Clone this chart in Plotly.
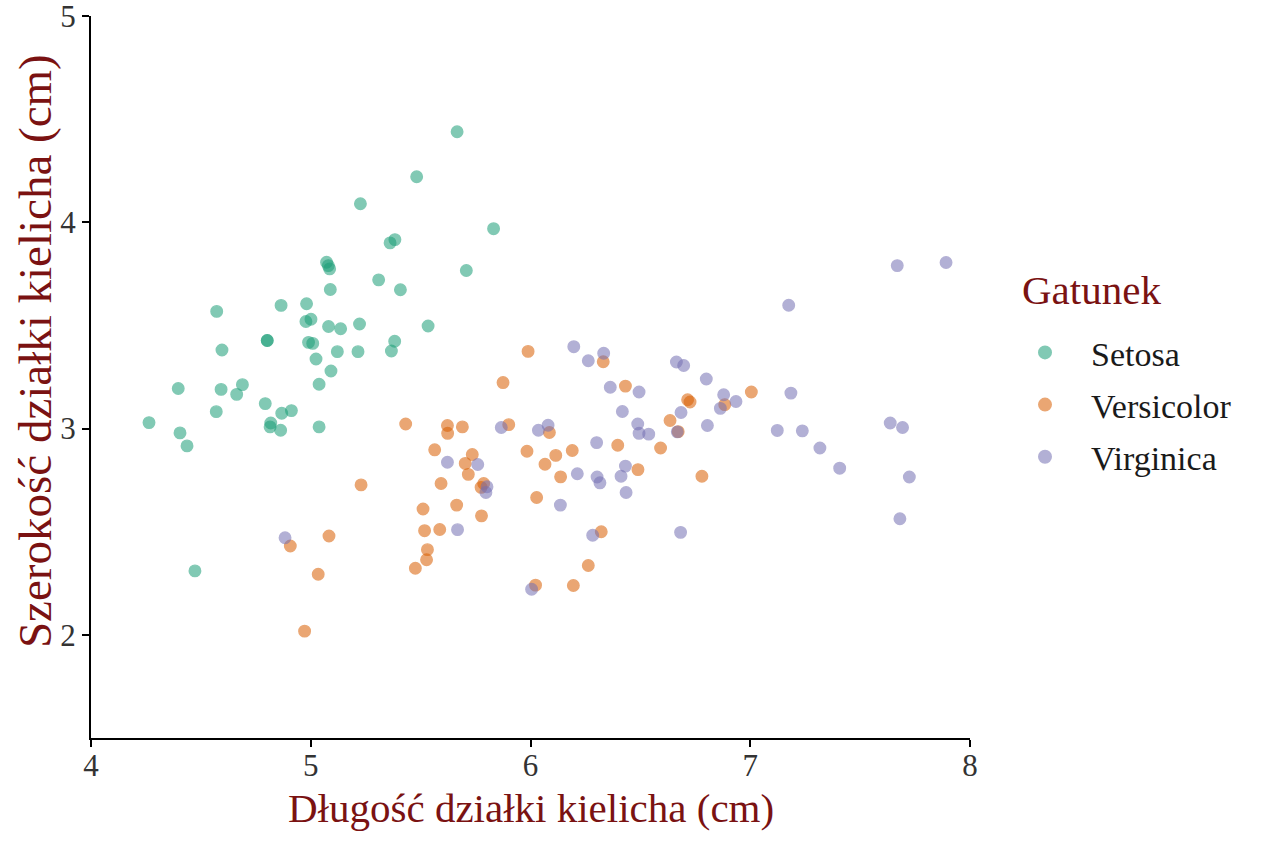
import plotly.graph_objects as go

species = ["Setosa", "Versicolor", "Virginica"]
colors = ["#1b9e77", "#d95f02", "#7570b3"]

setosa_x = [5.666, 5.482, 5.226, 5.832, 5.361, 5.383, 5.072, 5.080, 5.086, 5.708,
            5.309, 5.089, 5.408, 4.572, 4.865, 4.981, 4.978, 5.001, 5.081, 5.136,
            5.222, 5.534, 4.802, 4.802, 4.990, 5.009, 4.596, 5.121, 5.215, 5.382,
            5.367, 5.024, 5.092, 5.038, 4.397, 4.592, 4.689, 4.663, 4.793, 4.570,
            4.868, 4.912, 4.264, 4.818, 4.815, 4.863, 5.038, 4.405, 4.437, 4.473]
setosa_y = [4.439, 4.221, 4.090, 3.969, 3.900, 3.916, 3.806, 3.790, 3.774, 3.766,
            3.721, 3.674, 3.673, 3.568, 3.597, 3.605, 3.519, 3.530, 3.495, 3.484,
            3.507, 3.497, 3.427, 3.427, 3.418, 3.413, 3.381, 3.373, 3.373, 3.423,
            3.376, 3.337, 3.279, 3.215, 3.194, 3.190, 3.213, 3.166, 3.121, 3.082,
            3.074, 3.087, 3.029, 3.027, 3.008, 2.992, 3.008, 2.979, 2.916, 2.310]

versicolor_x = [5.989, 6.331, 5.875, 6.432, 7.005, 6.715, 6.726, 6.884, 5.432, 5.622,
                5.623, 5.690, 5.901, 6.086, 5.564, 5.735, 5.703, 5.717, 5.593, 5.787,
                5.775, 5.984, 6.115, 6.190, 6.066, 6.137, 6.397, 6.592, 6.635, 6.489,
                5.229, 6.028, 5.511, 5.664, 5.777, 5.518, 5.587, 6.322, 5.083, 4.907,
                5.531, 5.527, 5.476, 6.263, 5.034, 6.023, 6.195, 4.972, 6.780, 6.672]
versicolor_y = [3.374, 3.324, 3.223, 3.206, 3.177, 3.140, 3.129, 3.116, 3.022, 3.015,
                2.977, 3.008, 3.019, 2.981, 2.897, 2.874, 2.831, 2.778, 2.734, 2.734,
                2.715, 2.890, 2.870, 2.894, 2.827, 2.766, 2.919, 2.906, 3.039, 2.801,
                2.727, 2.666, 2.610, 2.629, 2.577, 2.505, 2.511, 2.500, 2.479, 2.431,
                2.413, 2.364, 2.323, 2.336, 2.294, 2.241, 2.239, 2.018, 2.769, 2.985]

virginica_x = [7.669, 7.891, 7.175, 6.197, 6.263, 6.333, 6.664, 6.697, 6.800, 6.363,
               6.494, 6.879, 6.935, 6.864, 7.185, 6.418, 6.685, 6.488, 6.805, 6.036,
               6.080, 6.494, 6.538, 6.668, 7.123, 7.237, 7.317, 7.407, 7.637, 7.693,
               7.724, 7.681, 6.301, 6.213, 6.303, 6.316, 6.432, 6.412, 6.435, 6.136,
               6.283, 6.683, 5.867, 5.622, 5.760, 5.802, 5.797, 5.668, 4.883, 6.005]
virginica_y = [3.790, 3.805, 3.598, 3.397, 3.329, 3.365, 3.323, 3.306, 3.240, 3.200,
               3.177, 3.164, 3.131, 3.098, 3.172, 3.083, 3.078, 3.022, 3.015, 2.992,
               3.016, 2.977, 2.973, 2.984, 2.991, 2.989, 2.906, 2.808, 3.027, 3.005,
               2.765, 2.563, 2.932, 2.781, 2.765, 2.737, 2.818, 2.769, 2.690, 2.629,
               2.483, 2.497, 3.005, 2.837, 2.826, 2.718, 2.690, 2.510, 2.471, 2.221]

xs = [setosa_x, versicolor_x, virginica_x]
ys = [setosa_y, versicolor_y, virginica_y]

x_ticks = [4, 5, 6, 7, 8]
y_ticks = [2, 3, 4, 5]

x_title = "Długość działki kielicha (cm)"
y_title = "Szerokość działki kielicha (cm)"
legend_title = "Gatunek"

FONT = "Liberation Serif"
TITLE_COLOR = "#7a1212"
TICK_COLOR = "#333333"

fig = go.Figure()
for name, c, x, y in zip(species, colors, xs, ys):
    fig.add_trace(go.Scatter(
        x=x, y=y, mode="markers", name=name, legendgroup=name,
        marker=dict(size=11.5, color=c, opacity=0.55,
                    line=dict(color=c, width=1.4)),
    ))

axis_common = dict(
    showgrid=False, zeroline=False, showline=True, linecolor="black", linewidth=2,
    ticks="outside", ticklen=7, tickwidth=2, tickcolor="black",
    tickfont=dict(family=FONT, size=31, color=TICK_COLOR),
    automargin=False, ticklabeloverflow="allow",
)

fig.update_layout(
    width=1264, height=843,
    margin=dict(l=91, r=294, t=16, b=105),
    paper_bgcolor="white", plot_bgcolor="white",
    font=dict(family=FONT, color=TICK_COLOR),
    showlegend=True,
    legend=dict(
        font=dict(family=FONT, size=34, color="#1a1a1a"),
        x=1.033, y=0.5737, xanchor="left", yanchor="top",
        traceorder="grouped", tracegroupgap=5,
        itemsizing="constant", itemwidth=82,
    ),
    xaxis=dict(range=[4, 8], tickvals=x_ticks, ticktext=[str(v) for v in x_ticks],
               ticklabelstandoff=-8, **axis_common),
    yaxis=dict(range=[1.5, 5], tickvals=y_ticks, ticktext=[str(v) for v in y_ticks],
               **axis_common),
    annotations=[
        dict(text=x_title, xref="paper", yref="paper", x=0.5, y=-0.097,
             xanchor="center", yanchor="middle", showarrow=False,
             font=dict(family=FONT, size=41, color=TITLE_COLOR)),
        dict(text=y_title, xref="paper", yref="paper", x=-0.0637, y=0.536,
             xanchor="center", yanchor="middle", showarrow=False, textangle=-90,
             font=dict(family=FONT, size=47, color=TITLE_COLOR)),
        dict(text=legend_title, xref="paper", yref="paper", x=1.0569, y=0.6205,
             xanchor="left", yanchor="middle", showarrow=False,
             font=dict(family=FONT, size=41, color=TITLE_COLOR)),
    ],
)

fig.write_html("out.html", config={"displayModeBar": False},
               post_script="document.body.style.margin='0px';")
